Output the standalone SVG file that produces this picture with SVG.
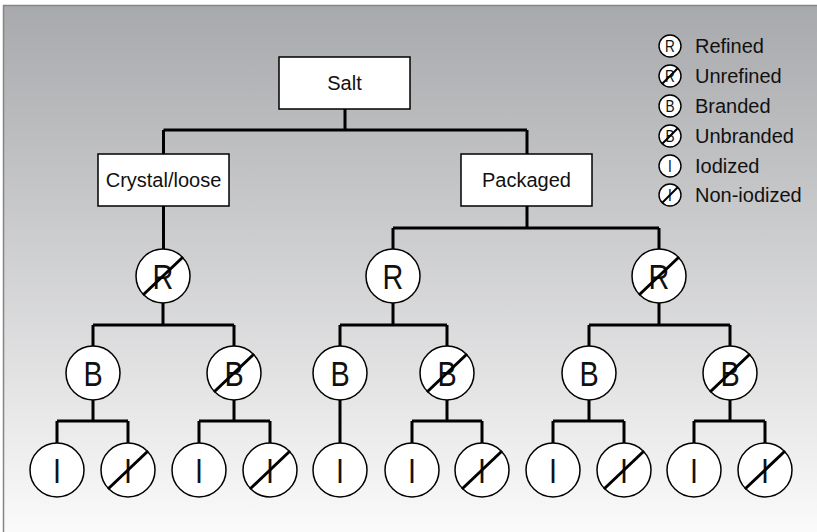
<svg xmlns="http://www.w3.org/2000/svg" width="817" height="532" viewBox="0 0 817 532">
<defs>
<linearGradient id="bg" x1="0" y1="0" x2="0" y2="1">
<stop offset="0" stop-color="#a8a9ac"/>
<stop offset="1" stop-color="#fbfbfb"/>
</linearGradient>
<style>
.box{fill:#fff;stroke:#000;stroke-width:1.5}
.bt{font-family:"Liberation Sans",Arial,sans-serif;font-size:20px;fill:#111;text-anchor:middle}
.c{fill:#fff;stroke:#000;stroke-width:1.5}
.ct{font-family:"Liberation Sans",Arial,sans-serif;font-size:36px;fill:#111;text-anchor:middle}
.sl{stroke:#000;stroke-width:3}
.con{fill:none;stroke:#000;stroke-width:3}
.lc{fill:#fff;stroke:#000;stroke-width:1.4}
.lt{font-family:"Liberation Sans",Arial,sans-serif;font-size:17px;fill:#111;text-anchor:middle}
.ll{font-family:"Liberation Sans",Arial,sans-serif;font-size:20px;fill:#111}
.ls{stroke:#000;stroke-width:1.9}
</style>
</defs>
<rect x="0" y="0" width="817" height="532" fill="#fff"/>
<rect x="3.5" y="5.5" width="820" height="530" fill="url(#bg)" stroke="#858585" stroke-width="1.5"/>

<g id="connectors" class="con">
<path d="M345 109V130M163.5 130H527M163.5 130V154M527 130V154"/>
<path d="M163.5 206V249"/>
<path d="M527 206V228M393 228H659M393 228V249M659 228V249"/>
<path d="M163 303V325M93 325H234M93 325V346M234 325V346"/>
<path d="M393 303V325M340 325H447M340 325V346M447 325V346"/>
<path d="M659 303V325M589 325H730M589 325V346M730 325V346"/>
<path d="M93 400V421M57 421H128M57 421V443M128 421V443"/>
<path d="M234 400V421M199 421H270M199 421V443M270 421V443"/>
<path d="M340 400V443"/>
<path d="M447 400V421M412 421H482M412 421V443M482 421V443"/>
<path d="M589 400V421M553 421H624M553 421V443M624 421V443"/>
<path d="M730 400V421M694 421H765M694 421V443M765 421V443"/>
</g>

<g id="salt"><rect class="box" x="279" y="57" width="131" height="52"/><text class="bt" x="344.5" y="90">Salt</text></g>
<g id="crystal"><rect class="box" x="98" y="154" width="131" height="52"/><text class="bt" x="163.5" y="187">Crystal/loose</text></g>
<g id="packaged"><rect class="box" x="461" y="154" width="131" height="52"/><text class="bt" x="526.5" y="187">Packaged</text></g>

<g id="c-ur1"><circle class="c" cx="163" cy="276" r="27"/><text class="ct" transform="matrix(0.8 0 0 1 163 289)">R</text><line class="sl" x1="143" y1="295" x2="183" y2="257"/></g>
<g id="c-r2"><circle class="c" cx="393" cy="276" r="27"/><text class="ct" transform="matrix(0.8 0 0 1 393 289)">R</text></g>
<g id="c-ur3"><circle class="c" cx="659" cy="276" r="27"/><text class="ct" transform="matrix(0.8 0 0 1 659 289)">R</text><line class="sl" x1="639" y1="295" x2="679" y2="257"/></g>

<g id="c-b1"><circle class="c" cx="93" cy="373" r="27"/><text class="ct" transform="matrix(0.8 0 0 1 93 386)">B</text></g>
<g id="c-ub1"><circle class="c" cx="234" cy="373" r="27"/><text class="ct" transform="matrix(0.8 0 0 1 234 386)">B</text><line class="sl" x1="214" y1="392" x2="254" y2="354"/></g>
<g id="c-b2"><circle class="c" cx="340" cy="373" r="27"/><text class="ct" transform="matrix(0.8 0 0 1 340 386)">B</text></g>
<g id="c-ub2"><circle class="c" cx="447" cy="373" r="27"/><text class="ct" transform="matrix(0.8 0 0 1 447 386)">B</text><line class="sl" x1="427" y1="392" x2="467" y2="354"/></g>
<g id="c-b3"><circle class="c" cx="589" cy="373" r="27"/><text class="ct" transform="matrix(0.8 0 0 1 589 386)">B</text></g>
<g id="c-ub3"><circle class="c" cx="730" cy="373" r="27"/><text class="ct" transform="matrix(0.8 0 0 1 730 386)">B</text><line class="sl" x1="710" y1="392" x2="750" y2="354"/></g>

<g id="c-i1"><circle class="c" cx="57" cy="470" r="27"/><text class="ct" transform="matrix(0.8 0 0 1 57 483)">I</text></g>
<g id="c-ni1"><circle class="c" cx="128" cy="470" r="27"/><text class="ct" transform="matrix(0.8 0 0 1 128 483)">I</text><line class="sl" x1="108" y1="489" x2="148" y2="451"/></g>
<g id="c-i2"><circle class="c" cx="199" cy="470" r="27"/><text class="ct" transform="matrix(0.8 0 0 1 199 483)">I</text></g>
<g id="c-ni2"><circle class="c" cx="270" cy="470" r="27"/><text class="ct" transform="matrix(0.8 0 0 1 270 483)">I</text><line class="sl" x1="250" y1="489" x2="290" y2="451"/></g>
<g id="c-i3"><circle class="c" cx="340" cy="470" r="27"/><text class="ct" transform="matrix(0.8 0 0 1 340 483)">I</text></g>
<g id="c-i4"><circle class="c" cx="412" cy="470" r="27"/><text class="ct" transform="matrix(0.8 0 0 1 412 483)">I</text></g>
<g id="c-ni4"><circle class="c" cx="482" cy="470" r="27"/><text class="ct" transform="matrix(0.8 0 0 1 482 483)">I</text><line class="sl" x1="462" y1="489" x2="502" y2="451"/></g>
<g id="c-i5"><circle class="c" cx="553" cy="470" r="27"/><text class="ct" transform="matrix(0.8 0 0 1 553 483)">I</text></g>
<g id="c-ni5"><circle class="c" cx="624" cy="470" r="27"/><text class="ct" transform="matrix(0.8 0 0 1 624 483)">I</text><line class="sl" x1="604" y1="489" x2="644" y2="451"/></g>
<g id="c-i6"><circle class="c" cx="694" cy="470" r="27"/><text class="ct" transform="matrix(0.8 0 0 1 694 483)">I</text></g>
<g id="c-ni6"><circle class="c" cx="765" cy="470" r="27"/><text class="ct" transform="matrix(0.8 0 0 1 765 483)">I</text><line class="sl" x1="745" y1="489" x2="785" y2="451"/></g>

<g id="legend">
<g><circle class="lc" cx="670" cy="46" r="11"/><text class="lt" transform="matrix(0.8 0 0 1 670 52)">R</text><text class="ll" x="695" y="53">Refined</text></g>
<g><circle class="lc" cx="670" cy="76" r="11"/><text class="lt" transform="matrix(0.8 0 0 1 670 82)">R</text><line class="ls" x1="662" y1="84" x2="678" y2="68"/><text class="ll" x="695" y="83">Unrefined</text></g>
<g><circle class="lc" cx="670" cy="106" r="11"/><text class="lt" transform="matrix(0.8 0 0 1 670 112)">B</text><text class="ll" x="695" y="113">Branded</text></g>
<g><circle class="lc" cx="670" cy="136" r="11"/><text class="lt" transform="matrix(0.8 0 0 1 670 142)">B</text><line class="ls" x1="662" y1="144" x2="678" y2="128"/><text class="ll" x="695" y="143">Unbranded</text></g>
<g><circle class="lc" cx="670" cy="166" r="11"/><text class="lt" transform="matrix(0.8 0 0 1 670 172)">I</text><text class="ll" x="695" y="173">Iodized</text></g>
<g><circle class="lc" cx="670" cy="195" r="11"/><text class="lt" transform="matrix(0.8 0 0 1 670 201)">I</text><line class="ls" x1="662" y1="203" x2="678" y2="187"/><text class="ll" x="695" y="202">Non-iodized</text></g>
</g>
</svg>
